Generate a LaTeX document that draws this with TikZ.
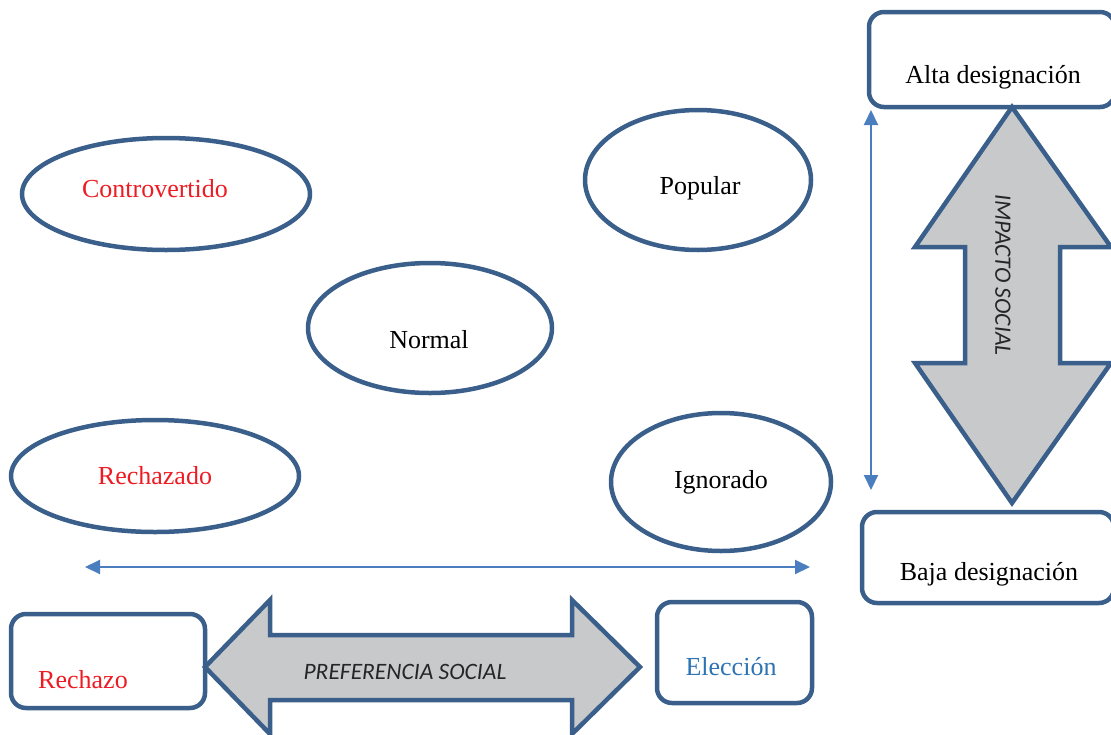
\documentclass[tikz,border=0pt]{standalone}
\usepackage{fontspec}
\setmainfont{Liberation Serif}
\newfontfamily\calibri{Carlito}
\usetikzlibrary{shapes.geometric,arrows.meta}
\definecolor{outline}{HTML}{3A5F8B}
\definecolor{arrowfill}{HTML}{C8C9CB}
\definecolor{axisblue}{HTML}{4A7EBF}
\definecolor{redtext}{HTML}{ED1C24}
\definecolor{bluetext}{HTML}{2E74B5}
\definecolor{graytext}{HTML}{262626}
\tikzset{
  oval/.style={draw=outline, line width=4.5pt, ellipse, fill=white, inner sep=0pt},
  box/.style={draw=outline, line width=4.5pt, rounded corners=15pt, fill=white, inner sep=0pt},
  bigarrow/.style={draw=outline, line width=4.5pt, fill=arrowfill, line join=miter},
  axis/.style={draw=axisblue, line width=2pt, {Triangle[length=15pt,width=14pt]}-{Triangle[length=15pt,width=14pt]}},
  label/.style={font=\fontsize{26}{30}\selectfont, inner sep=0pt},
  caption/.style={font=\calibri\itshape\fontsize{23.5}{28}\selectfont, text=graytext, inner sep=0pt}
}
\begin{document}
\begin{tikzpicture}[x=1pt,y=-1pt]
\useasboundingbox (0,0) rectangle (1111,734);

% category ellipses
\node[oval, minimum width=288pt, minimum height=112pt] (contro) at (166,194) {};
\node[oval, minimum width=226pt, minimum height=140pt] (popular) at (698,180) {};
\node[oval, minimum width=244pt, minimum height=130pt] (normal) at (430,328) {};
\node[oval, minimum width=288pt, minimum height=112pt] (rechazado) at (155,476) {};
\node[oval, minimum width=220pt, minimum height=138pt] (ignorado) at (721,482) {};

\node[label, text=redtext] (controT) at (155,189) {Controvertido};
\node[label] (popularT) at (700,188) {Popular};
\node[label] (normalT) at (429,340) {Normal};
\node[label, text=redtext] (rechazadoT) at (155,476) {Rechazado};
\node[label] (ignoradoT) at (721,482) {Ignorado};

% end boxes
\node[box, minimum width=246pt, minimum height=95pt] (alta) at (992,59.5) {};
\node[box, minimum width=252pt, minimum height=91pt] (baja) at (988,557.5) {};
\node[box, minimum width=194pt, minimum height=94pt] (rechazo) at (108,661) {};
\node[box, minimum width=155pt, minimum height=101pt] (eleccion) at (734.5,652.5) {};

\node[label] (altaT) at (993,77) {Alta designación};
\node[label] (bajaT) at (989,574) {Baja designación};
\node[label, text=redtext] (rechazoT) at (83,680) {Rechazo};
\node[label, text=bluetext] (eleccionT) at (731,667) {Elección};

% vertical double arrow: social impact
\draw[bigarrow] (1012,107) -- (1111,247) -- (1060,247) -- (1060,363) -- (1111,363)
  -- (1012,503) -- (915,363) -- (965,363) -- (965,247) -- (915,247) -- cycle;
\node[caption, rotate=-90] (impacto) at (1003,275) {IMPACTO SOCIAL};

% horizontal double arrow: social preference
\draw[bigarrow] (205,667) -- (270,600) -- (270,635) -- (572,635) -- (572,600)
  -- (640,667) -- (572,734) -- (572,700) -- (270,700) -- (270,734) -- cycle;
\node[caption] (preferencia) at (405,672) {PREFERENCIA SOCIAL};

% thin axes
\coordinate (vtop) at (871,110);
\coordinate (vbot) at (871,490);
\coordinate (hleft) at (85,567);
\coordinate (hright) at (810,567);
\draw[axis] (vbot) -- (vtop);
\draw[axis] (hleft) -- (hright);
\end{tikzpicture}
\end{document}
